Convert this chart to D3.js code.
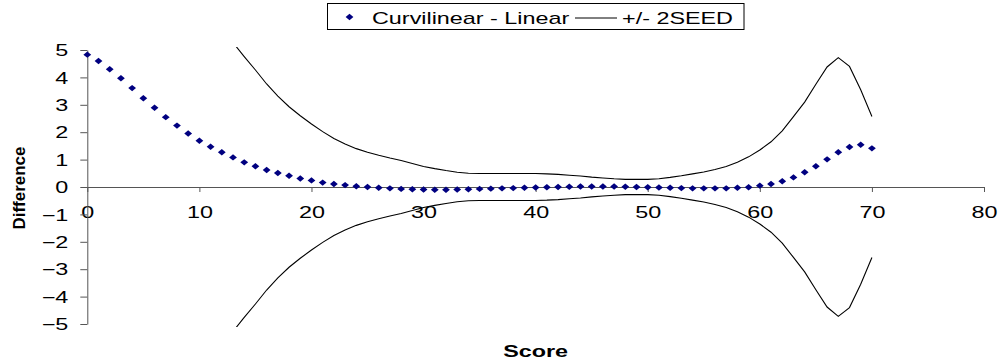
<!DOCTYPE html>
<html>
<head>
<meta charset="utf-8">
<script src="https://cdn.jsdelivr.net/npm/d3@7"></script>
<style>
  html, body { margin: 0; padding: 0; background: #fff; }
  svg { display: block; font-family: "Liberation Sans", Arial, sans-serif; }
</style>
</head>
<body>
<svg id="chart" width="1001" height="362"></svg>
<script>
// Score values for the difference series (one point per score 0..70)
const scores = d3.range(0, 71);
const difference = [
  4.83, 4.60, 4.30, 3.97, 3.61, 3.24, 2.89, 2.55, 2.24, 1.95,
  1.69, 1.47, 1.27, 1.08, 0.90, 0.76, 0.62, 0.51, 0.41, 0.31,
  0.24, 0.16, 0.11, 0.07, 0.03, 0.00, -0.03, -0.05, -0.07, -0.08,
  -0.09, -0.10, -0.10, -0.09, -0.08, -0.07, -0.06, -0.05, -0.04, -0.03,
  -0.02, -0.01, 0.00, 0.01, 0.02, 0.02, 0.02, 0.02, 0.01, 0.00,
  -0.01, -0.02, -0.03, -0.04, -0.05, -0.05, -0.05, -0.05, -0.03, -0.01,
  0.05, 0.11, 0.21, 0.35, 0.54, 0.76, 1.01, 1.27, 1.46, 1.54,
  1.41
];

// Two standard errors of the difference, scores 13..70
const bandScores = d3.range(13, 71);
const twoSE = [
  5.27, 4.76, 4.27, 3.76, 3.32, 2.93, 2.60, 2.30, 2.02, 1.77,
  1.57, 1.40, 1.27, 1.16, 1.06, 0.97, 0.86, 0.75, 0.67, 0.60,
  0.54, 0.50, 0.49, 0.49, 0.49, 0.49, 0.49, 0.49, 0.48, 0.46,
  0.43, 0.40, 0.36, 0.33, 0.30, 0.28, 0.28, 0.28, 0.30, 0.35,
  0.41, 0.48, 0.55, 0.64, 0.75, 0.90, 1.10, 1.35, 1.65, 2.05,
  2.57, 3.10, 3.75, 4.38, 4.72, 4.40, 3.55, 2.57
];

const xTicks = [0, 10, 20, 30, 40, 50, 60, 70, 80];
const yTicks = [-5, -4, -3, -2, -1, 0, 1, 2, 3, 4, 5];
const seriesNames = ["Curvilinear - Linear", "+/- 2SEED"];
const xTitle = "Score";
const yTitle = "Difference";

const svg = d3.select("#chart");
const SX = 1.46;           // horizontal stretch of the lettering
const FS = 16;             // font size of the lettering
const navy = "#000080";

const x = d3.scaleLinear().domain([0, 80]).range([87.3, 984]);
const y = d3.scaleLinear().domain([-5, 5]).range([324, 50]);

// diamond marker, a touch wider than tall
const diamond = (w, h) => `M0,${-h}L${w},0L0,${h}L${-w},0Z`;

// clip region for the band lines
svg.append("defs").append("clipPath").attr("id", "plotClip")
  .append("rect")
  .attr("x", x(0)).attr("y", y(5.11))
  .attr("width", x(80) - x(0)).attr("height", y(-5.11) - y(5.11));

// x axis through zero
const xAxis = svg.append("g")
  .attr("transform", `translate(0,${y(0)})`)
  .call(d3.axisBottom(x).tickValues(xTicks).tickSize(5).tickSizeOuter(0));
xAxis.select(".domain").attr("stroke", "#555");
xAxis.selectAll(".tick line").attr("stroke", "#555");
xAxis.selectAll(".tick text")
  .attr("y", 0).attr("dy", null)
  .attr("transform", `translate(0,30.5) scale(${SX},1)`)
  .attr("font-size", FS)
  .attr("font-family", "Liberation Sans, Arial, sans-serif")
  .attr("fill", "#000");

// y axis at score 0
const yAxis = svg.append("g")
  .attr("transform", `translate(${x(0)},0)`)
  .call(d3.axisLeft(y).tickValues(yTicks).tickSize(7).tickSizeOuter(0));
yAxis.select(".domain").attr("stroke", "#555");
yAxis.selectAll(".tick line").attr("stroke", "#555");
yAxis.selectAll(".tick text")
  .attr("x", 0).attr("dy", null)
  .attr("transform", `translate(-19,5.7) scale(${SX},1)`)
  .attr("font-size", FS)
  .attr("font-family", "Liberation Sans, Arial, sans-serif")
  .attr("fill", "#000");

// +/- 2SE band
const upper = bandScores.map((s, i) => [s, twoSE[i]]);
const lower = bandScores.map((s, i) => [s, -twoSE[i]]);
const line = d3.line().x(d => x(d[0])).y(d => y(d[1]));
const bandG = svg.append("g").attr("clip-path", "url(#plotClip)");
[upper, lower].forEach(pts => {
  bandG.append("path")
    .attr("d", line(pts))
    .attr("fill", "none")
    .attr("stroke", "#000")
    .attr("stroke-width", 1.1)
    .attr("stroke-linejoin", "miter");
});

// difference points
svg.append("g").selectAll("path")
  .data(scores.map((s, i) => [s, difference[i]]))
  .join("path")
  .attr("d", diamond(3.9, 3.2))
  .attr("transform", d => `translate(${x(d[0])},${y(d[1])})`)
  .attr("fill", navy);

// axis titles
svg.append("text")
  .attr("transform", `translate(${(x(0) + x(80)) / 2},357) scale(${SX},1)`)
  .attr("text-anchor", "middle")
  .attr("font-size", 16).attr("font-weight", "bold")
  .text(xTitle);

svg.append("text")
  .attr("transform", "translate(24.5,188) rotate(-90)")
  .attr("text-anchor", "middle")
  .attr("font-size", 16).attr("font-weight", "bold")
  .attr("textLength", 83).attr("lengthAdjust", "spacingAndGlyphs")
  .text(yTitle);

// legend
const lg = svg.append("g");
lg.append("rect")
  .attr("x", 327.5).attr("y", 3.5).attr("width", 416.5).attr("height", 26)
  .attr("fill", "#fff").attr("stroke", "#000").attr("stroke-width", 1);
lg.append("path").attr("d", diamond(3.9, 3.2))
  .attr("transform", "translate(349.5,17)").attr("fill", navy);
lg.append("text")
  .attr("transform", `translate(372,24) scale(${SX},1)`)
  .attr("font-size", FS).text(seriesNames[0]);
lg.append("line")
  .attr("x1", 575).attr("x2", 617).attr("y1", 18).attr("y2", 18)
  .attr("stroke", "#000").attr("stroke-width", 1);
lg.append("text")
  .attr("transform", `translate(622,24) scale(${SX},1)`)
  .attr("font-size", FS).text(seriesNames[1]);
</script>
</body>
</html>
